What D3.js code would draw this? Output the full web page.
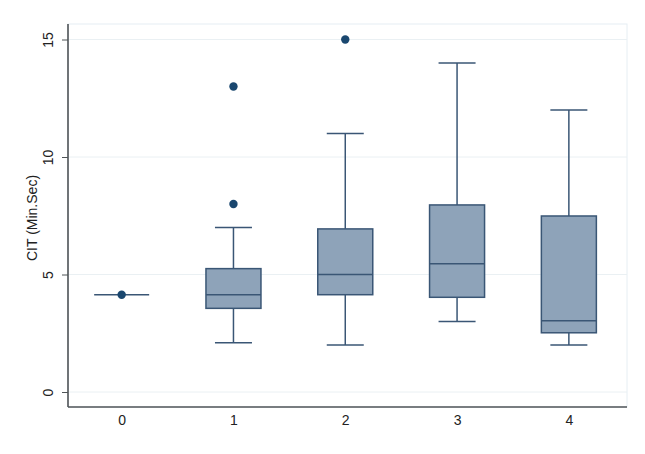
<!DOCTYPE html>
<html><head><meta charset="utf-8">
<script src="https://cdn.jsdelivr.net/npm/d3@7"></script>
<style>body{margin:0;background:#fff}svg{display:block}</style>
</head><body><svg id="c" width="645" height="454"></svg>
<script>
const categories = [0, 1, 2, 3, 4];
const q1 =      [4.14, 3.56, 4.14, 4.03, 2.52];
const median =  [4.14, 4.14, 5.00, 5.46, 3.03];
const q3 =      [4.14, 5.25, 6.94, 7.96, 7.49];
const whiskLo = [4.14, 2.10, 2.00, 3.00, 2.00];
const whiskHi = [4.14, 7.00, 11.00, 14.00, 12.00];
const outliers = [[4.14], [8, 13], [15], [], []];
const yTicks = [0, 5, 10, 15];
const yLabel = "CIT (Min.Sec)";

const svg = d3.select("#c");
const L = 68, R = 627, T = 24, B = 407;
const x = d3.scaleLinear().domain([-0.48, 4.52]).range([L, R]);
const y = d3.scaleLinear().domain([0, 15]).range([392, 39.5]);
const font = "Liberation Sans, Arial, sans-serif";

svg.append("rect").attr("x", L).attr("y", T).attr("width", R - L).attr("height", B - T)
  .attr("fill", "none").attr("stroke", "#e6eef3").attr("stroke-width", 1);
svg.append("g").selectAll("line").data(yTicks).join("line")
  .attr("x1", L).attr("x2", R).attr("y1", d => y(d)).attr("y2", d => y(d))
  .attr("stroke", "#eaf0f3").attr("stroke-width", 1);

const data = categories.map((c, i) => ({c, q1: q1[i], med: median[i], q3: q3[i], lo: whiskLo[i], hi: whiskHi[i], out: outliers[i]}));
const bw = 55, cw = 37;
const stroke = "#3a5675", fill = "#8ea3b9";
const g = svg.append("g");
data.forEach(d => {
  const cx = x(d.c);
  if (d.hi > d.q3) {
    g.append("line").attr("x1", cx).attr("x2", cx).attr("y1", y(d.hi)).attr("y2", y(d.q3)).attr("stroke", stroke).attr("stroke-width", 1.5);
    g.append("line").attr("x1", cx - cw/2).attr("x2", cx + cw/2).attr("y1", y(d.hi)).attr("y2", y(d.hi)).attr("stroke", stroke).attr("stroke-width", 1.5);
  }
  if (d.lo < d.q1) {
    g.append("line").attr("x1", cx).attr("x2", cx).attr("y1", y(d.q1)).attr("y2", y(d.lo)).attr("stroke", stroke).attr("stroke-width", 1.5);
    g.append("line").attr("x1", cx - cw/2).attr("x2", cx + cw/2).attr("y1", y(d.lo)).attr("y2", y(d.lo)).attr("stroke", stroke).attr("stroke-width", 1.5);
  }
  g.append("rect").attr("x", cx - bw/2).attr("width", bw).attr("y", y(d.q3)).attr("height", Math.max(0, y(d.q1) - y(d.q3)))
    .attr("fill", fill).attr("stroke", stroke).attr("stroke-width", 1.5);
  g.append("line").attr("x1", cx - bw/2).attr("x2", cx + bw/2).attr("y1", y(d.med)).attr("y2", y(d.med)).attr("stroke", stroke).attr("stroke-width", 1.5);
  d.out.forEach(o => {
    g.append("circle").attr("cx", cx).attr("cy", y(o)).attr("r", 4.2).attr("fill", "#1a476f");
  });
});

const ya = svg.append("g").attr("transform", `translate(${L},0)`)
  .call(d3.axisLeft(y).tickValues(yTicks).tickSize(6).tickSizeOuter(0).tickFormat(d3.format("d")));
ya.select(".domain").attr("d", `M0,${T}V${B}`).attr("stroke", "#4f5457").attr("stroke-width", 1.6);
ya.selectAll(".tick line").attr("stroke", "#4f5457");
ya.selectAll(".tick text").attr("transform", "rotate(-90)").attr("x", 0).attr("y", -15)
  .attr("dy", "0").attr("text-anchor", "middle").attr("fill", "#222")
  .style("font-family", font).style("font-size", "14px");

const xa = svg.append("g").attr("transform", `translate(0,${B})`)
  .call(d3.axisBottom(x).tickValues(categories).tickSize(0).tickSizeOuter(0).tickFormat(d3.format("d")));
xa.select(".domain").attr("d", `M${L},0H${R}`).attr("stroke", "#4f5457").attr("stroke-width", 1.6);
xa.selectAll(".tick text").attr("y", 8).attr("dy", "0.71em").attr("fill", "#222")
  .style("font-family", font).style("font-size", "14px");

svg.append("text").attr("transform", `translate(37,218) rotate(-90)`).attr("text-anchor", "middle")
  .attr("fill", "#222").style("font-family", font).style("font-size", "14px")
  .text(yLabel);
</script></body></html>
